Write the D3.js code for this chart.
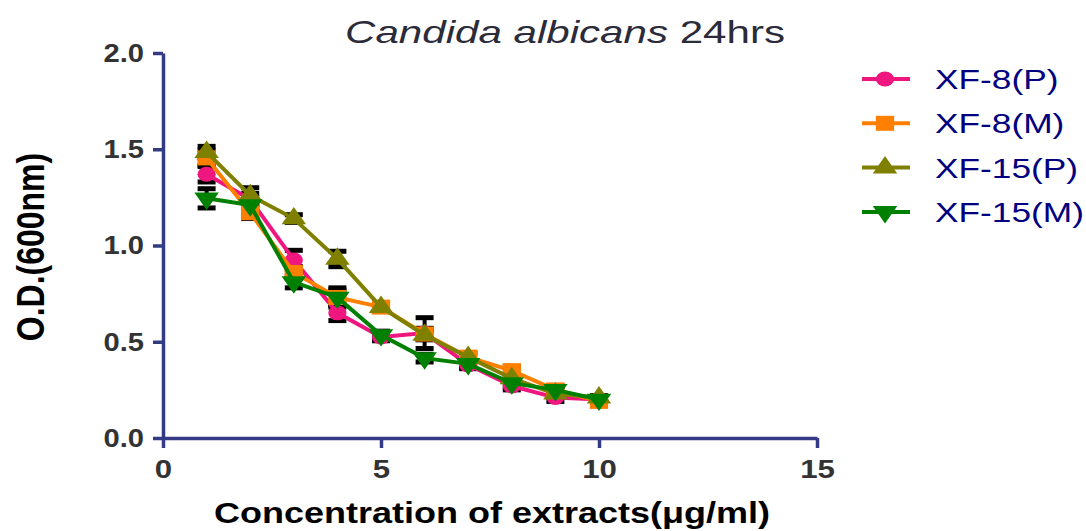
<!DOCTYPE html>
<html>
<head>
<meta charset="utf-8">
<script src="https://cdn.jsdelivr.net/npm/d3@7"></script>
<style>
  body { margin: 0; background: #fff; }
  text { font-family: "Liberation Sans", Arial, sans-serif; }
</style>
</head>
<body>
<script>
'use strict';

// concentrations (ug/ml)
const conc = [1, 2, 3, 4, 5, 6, 7, 8, 9, 10];

const seriesNames = ["XF-8(P)", "XF-8(M)", "XF-15(P)", "XF-15(M)"];
const seriesColors = ["#f0167f", "#ff8000", "#808000", "#008000"];
const seriesShapes = ["circle", "square", "triangle", "triangleDown"];

// O.D. values
const xf8p  = [1.37, 1.24, 0.925, 0.65, 0.525, 0.545, 0.38, 0.27, 0.21, 0.20];
const xf8m  = [1.455, 1.17, 0.86, 0.73, 0.68, 0.54, 0.42, 0.35, 0.25, 0.19];
const xf15p = [1.485, 1.26, 1.14, 0.93, 0.68, 0.535, 0.42, 0.31, 0.23, 0.21];
const xf15m = [1.245, 1.21, 0.81, 0.73, 0.535, 0.415, 0.385, 0.285, 0.25, 0.20];

// error (SEM) estimates
const xf8pErr  = [0.04, 0.03, 0.05, 0.04, 0.02, 0.08, 0.02, 0.02, 0.02, 0.01];
const xf8mErr  = [0.04, 0.03, 0.03, 0.05, 0.02, 0.03, 0.02, 0.02, 0.02, 0.01];
const xf15pErr = [0.03, 0.04, 0.02, 0.04, 0.02, 0.02, 0.02, 0.02, 0.02, 0.01];
const xf15mErr = [0.05, 0.04, 0.03, 0.04, 0.02, 0.02, 0.02, 0.02, 0.02, 0.01];

const xTicks = [0, 5, 10, 15];
const yTicks = [0.0, 0.5, 1.0, 1.5, 2.0];

const allValues = [xf8p, xf8m, xf15p, xf15m];
const allErrors = [xf8pErr, xf8mErr, xf15pErr, xf15mErr];

const width = 1086, height = 531;
const axisColor = "#353a84";
const stretch = 1.22; // the original picture is widened horizontally

const svg = d3.select("body").append("svg")
  .attr("width", width)
  .attr("height", height);

const xScale = d3.scaleLinear().domain([0, 15]).range([163, 817]);
const yScale = d3.scaleLinear().domain([0, 2]).range([438, 53]);

// widen a text selection by factor (or to a fixed length)
function widen(sel, factor, fixed) {
  sel.each(function() {
    let len = this.getComputedTextLength();
    d3.select(this)
      .attr("textLength", fixed ? fixed : len * factor)
      .attr("lengthAdjust", "spacingAndGlyphs");
  });
}

// title
const title = svg.append("text")
  .attr("x", 565)
  .attr("y", 43)
  .attr("text-anchor", "middle")
  .style("font-size", "32px")
  .attr("fill", "#2b2b3a");
title.append("tspan").style("font-style", "italic").text("Candida albicans");
title.append("tspan").text(" 24hrs");
widen(title, null, 440);

// axes
const xAxis = d3.axisBottom(xScale).tickValues(xTicks).tickSize(10).tickPadding(12).tickFormat(d3.format("d"));
const yAxis = d3.axisLeft(yScale).tickValues(yTicks).tickSize(10).tickPadding(9).tickFormat(d3.format(".1f"));

function styleAxis(g) {
  g.select(".domain").attr("stroke", axisColor).attr("stroke-width", 3.5);
  g.selectAll(".tick line").attr("stroke", axisColor).attr("stroke-width", 3.5);
  g.selectAll(".tick text")
    .attr("fill", "#333")
    .style("font-size", "26px")
    .style("font-weight", "bold")
    .style("font-family", "'Liberation Sans', Arial, sans-serif");
}

const gx = svg.append("g")
  .attr("transform", "translate(0," + yScale(0) + ")")
  .call(xAxis.tickSizeOuter(0))
  .call(styleAxis);
widen(gx.selectAll(".tick text"), 1.2);

const gy = svg.append("g")
  .attr("transform", "translate(" + xScale(0) + ",0)")
  .call(yAxis.tickSizeOuter(0))
  .call(styleAxis);
widen(gy.selectAll(".tick text"), 1.12);

// axis labels
const xLabel = svg.append("text")
  .attr("x", 492)
  .attr("y", 523)
  .attr("text-anchor", "middle")
  .style("font-size", "29px")
  .style("font-weight", "bold")
  .attr("fill", "#000")
  .text("Concentration of extracts(\u03bcg/ml)");
widen(xLabel, null, 556);

svg.append("text")
  .attr("transform", "translate(44, 247)scale(" + stretch + ",1)rotate(-90)")
  .attr("text-anchor", "middle")
  .style("font-size", "32px")
  .style("font-weight", "bold")
  .attr("fill", "#000")
  .text("O.D.(600nm)");

// marker symbols
function symbolPath(shape) {
  if (shape === "circle") return d3.symbol().type(d3.symbolCircle).size(175)();
  if (shape === "square") return d3.symbol().type(d3.symbolSquare).size(225)();
  return d3.symbol().type(d3.symbolTriangle).size(175)();
}
function symbolTransform(shape, x, y) {
  let t = "translate(" + x + "," + y + ")scale(" + stretch + ",1)";
  if (shape === "triangleDown") return t + "rotate(180)";
  return t;
}

const line = d3.line()
  .x((d) => xScale(d.x))
  .y((d) => yScale(d.y));

// error bars first
allValues.forEach((vals, i) => {
  let pts = conc.map((c, j) => ({ x: c, y: vals[j], e: allErrors[i][j] }));
  let g = svg.append("g");
  g.selectAll("line.err")
    .data(pts)
    .enter()
    .append("line")
      .attr("x1", (d) => xScale(d.x))
      .attr("x2", (d) => xScale(d.x))
      .attr("y1", (d) => yScale(d.y - d.e))
      .attr("y2", (d) => yScale(d.y + d.e))
      .attr("stroke", "#000")
      .attr("stroke-width", 4);
  [1, -1].forEach((sgn) => {
    g.selectAll("line.cap" + sgn)
      .data(pts)
      .enter()
      .append("line")
        .attr("x1", (d) => xScale(d.x) - 9)
        .attr("x2", (d) => xScale(d.x) + 9)
        .attr("y1", (d) => yScale(d.y + sgn * d.e))
        .attr("y2", (d) => yScale(d.y + sgn * d.e))
        .attr("stroke", "#000")
        .attr("stroke-width", 5);
  });
});

// lines and markers
allValues.forEach((vals, i) => {
  let pts = conc.map((c, j) => ({ x: c, y: vals[j] }));
  svg.append("path")
    .datum(pts)
    .attr("d", line)
    .attr("fill", "none")
    .attr("stroke", seriesColors[i])
    .attr("stroke-width", 4);
  svg.selectAll(".m" + i)
    .data(pts)
    .enter()
    .append("path")
      .attr("d", symbolPath(seriesShapes[i]))
      .attr("transform", (d) => symbolTransform(seriesShapes[i], xScale(d.x), yScale(d.y)))
      .attr("fill", seriesColors[i]);
});

// legend
const legend = svg.append("g");
seriesNames.forEach((name, i) => {
  let yy = 79 + i * 44.3;
  legend.append("line")
    .attr("x1", 862).attr("x2", 910)
    .attr("y1", yy).attr("y2", yy)
    .attr("stroke", seriesColors[i])
    .attr("stroke-width", 4);
  legend.append("path")
    .attr("d", symbolPath(seriesShapes[i]))
    .attr("transform", symbolTransform(seriesShapes[i], 885, yy))
    .attr("fill", seriesColors[i]);
  let t = legend.append("text")
    .attr("x", 935)
    .attr("y", yy + 10)
    .style("font-size", "28px")
    .attr("fill", "#000080")
    .text(name);
  widen(t, 1.26);
});
</script>
</body>
</html>
